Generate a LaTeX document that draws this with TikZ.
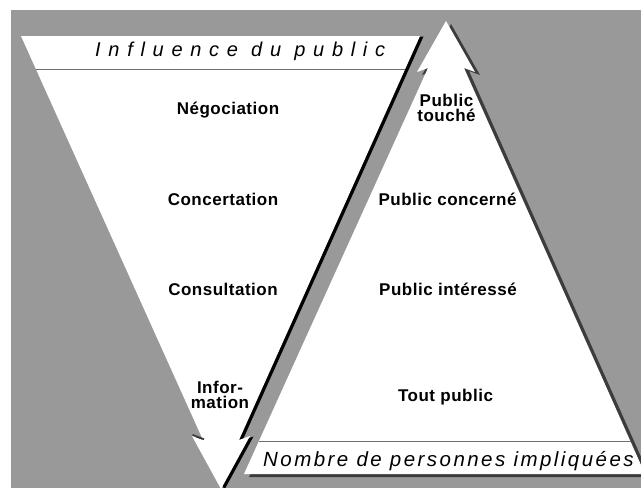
\documentclass[tikz,border=0pt]{standalone}
\usepackage{fontspec}
\setmainfont{Liberation Sans}
\newfontfamily\lblfont[LetterSpace=3]{Liberation Sans}
\newfontfamily\ttlfontA[LetterSpace=38.5]{Liberation Sans}
\newfontfamily\ttlfontB[LetterSpace=12]{Liberation Sans}
\usetikzlibrary{calc}
\definecolor{bggray}{HTML}{999999}
\definecolor{shadowgray}{HTML}{3C3C3C}
\definecolor{rulegray}{HTML}{707070}
\tikzset{
  lbl/.style={font=\lblfont\bfseries\fontsize{17}{15.5}\selectfont, align=center, inner sep=0pt, anchor=base},
  ttlA/.style={font=\ttlfontA\itshape\fontsize{20}{24}\selectfont, inner sep=0pt, anchor=base west},
  ttlB/.style={font=\ttlfontB\itshape\fontsize{20.5}{24}\selectfont, inner sep=0pt, anchor=base west},
  arrowbody/.style={fill=white, draw=none},
  rule/.style={draw=rulegray, line width=0.9pt}
}
\begin{document}
\begin{tikzpicture}[x=1pt, y=-1pt]
\useasboundingbox (0,0) rectangle (641,488);
\fill[white] (0,0) rectangle (641,488);
\fill[bggray] (11,10) rectangle (641,488);
% down arrow (influence)
\begin{scope}[shift={(3.5,0.5)}]
\fill[black] (21,36) -- (420,36) -- (239,440) -- (250,436) -- (221,489) -- (192,436) -- (203,440) -- cycle;
\end{scope}
\coordinate (dTL) at (21,36);
\coordinate (dTR) at (420,36);
\coordinate (dRN) at (239,440);
\coordinate (dRB) at (250,436);
\coordinate (dTip) at (221,489);
\coordinate (dLB) at (192,436);
\coordinate (dLN) at (203,440);
\path[arrowbody] (dTL) -- (dTR) -- (dRN) -- (dRB) -- (dTip) -- (dLB) -- (dLN) -- cycle;
\draw[rule] ($(dTL)!0.0817!(dLN)$) -- ($(dTR)!0.0817!(dRN)$);
\draw[shadowgray, line width=1.6pt] (192.5,434.8) -- (204,439.2);
% up arrow (public)
\begin{scope}[shift={(5,3)}]
\fill[shadowgray] (446,21) -- (475,72) -- (464,68) -- (645,474) -- (244,474) -- (428,68) -- (417,72) -- cycle;
\end{scope}
\coordinate (uTip) at (446,21);
\coordinate (uRB) at (475,72);
\coordinate (uRN) at (464,68);
\coordinate (uBR) at (645,474);
\coordinate (uBL) at (244,474);
\coordinate (uLN) at (428,68);
\coordinate (uLB) at (417,72);
\path[arrowbody] (uTip) -- (uRB) -- (uRN) -- (uBR) -- (uBL) -- (uLN) -- (uLB) -- cycle;
\draw[rule] ($(uLN)!0.921!(uBL)$) -- ($(uRN)!0.921!(uBR)$);
% titles
\node[ttlA] (infl) at (95,56.7) {Influence du public};
\node[ttlB] (nomb) at (263,466.5) {Nombre de personnes impliquées};
% left labels
\node[lbl] (nego) at (228,114.5) {Négociation};
\node[lbl] (conc) at (223,205) {Concertation};
\node[lbl] (cons) at (223,295) {Consultation};
\node[lbl] (info) at (220,408.5) {Infor-\\mation};
% right labels
\node[lbl] (ptou) at (446.5,121.7) {Public\\touché};
\node[lbl] (pcon) at (447.5,205) {Public concerné};
\node[lbl] (pint) at (448,295) {Public intéressé};
\node[lbl] (tout) at (445.5,401.7) {Tout public};
\end{tikzpicture}
\end{document}
